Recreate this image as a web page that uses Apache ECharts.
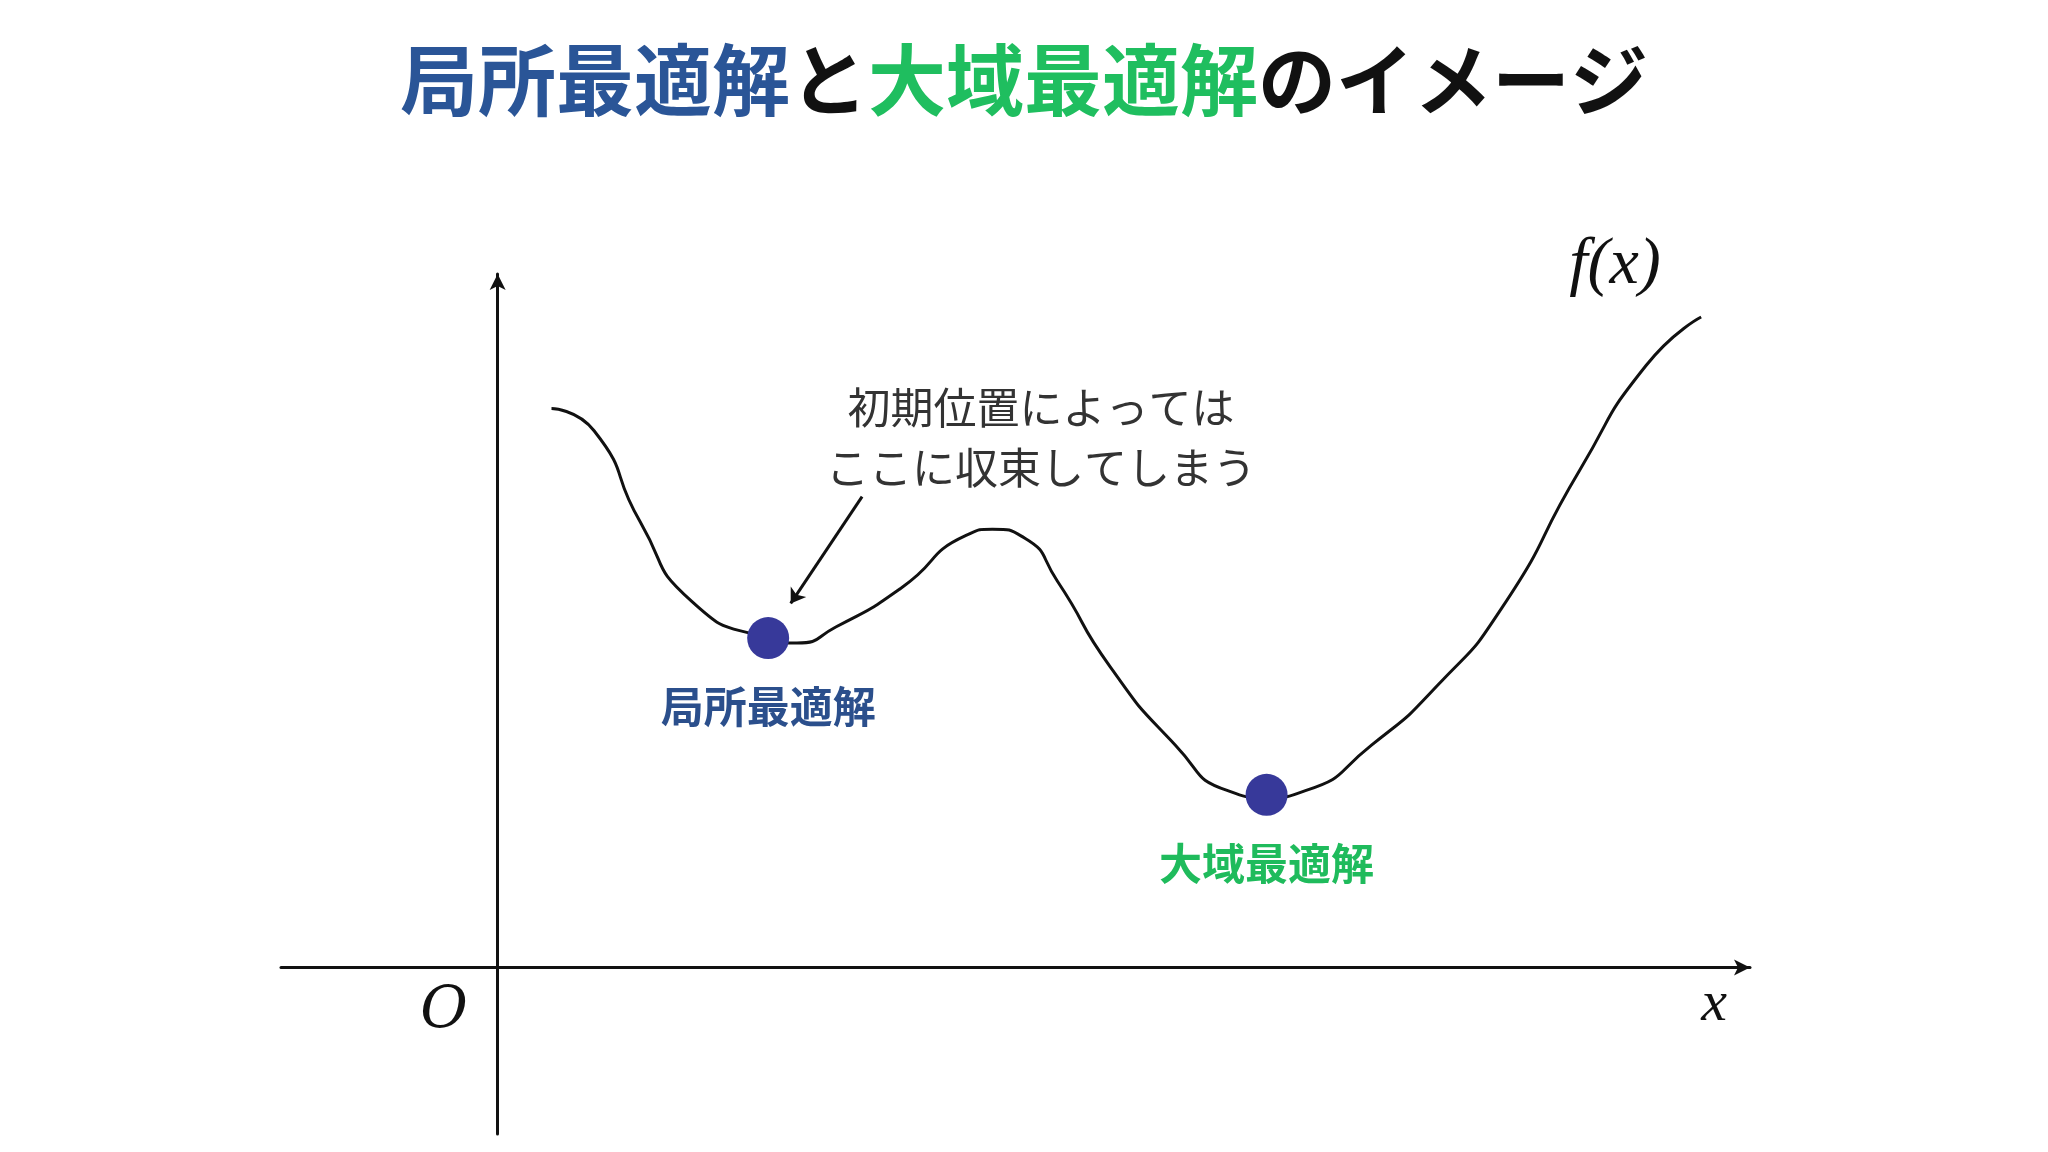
<!DOCTYPE html>
<html><head><meta charset="utf-8">
<script src="https://cdn.jsdelivr.net/npm/echarts@6/dist/echarts.min.js"></script>
<style>html,body{margin:0;background:#fff}#c{width:2048px;height:1152px}</style>
</head><body><div id="c"></div>
<script>
const curveX=[4.3,7.7,11.4,15.5,21.6,23.9,27.0,32.2,37.4,39.5,42.1,44.7,48.9,54.1,58.3,61.4,64.5,69.8,75.0,80.2,86.4,91.7,96.1];
const curveY=[80.6,77.4,64.2,52.8,47.5,46.8,49.1,54.7,62.3,63.2,61.9,55.7,43.4,32.1,25.5,24.5,25.5,32.1,40.6,51.9,71.7,86.8,93.8];
const pointNames=['局所最適解','大域最適解'];
const pointX=[21.6,61.4];
const pointY=[47.5,24.9];
const pointColors=['#2b4f8c','#1fbb5c'];
const note='初期位置によっては\nここに収束してしまう';
const chart=echarts.init(document.getElementById('c'));
const axisCommon={type:'value',axisTick:{show:false},axisLabel:{show:false},splitLine:{show:false},
  axisLine:{onZero:true,symbol:['none','arrow'],symbolSize:[12,16],lineStyle:{color:'#111',width:3}}};
chart.setOption({
  animation:false,
  title:{left:'center',top:36,text:'{b|局所最適解}{k|と}{g|大域最適解}{k|のイメージ}',
    textStyle:{rich:{
      b:{color:'#2a5597',fontSize:78,fontWeight:'bold',fontFamily:'Noto Sans CJK JP'},
      g:{color:'#1fbe5f',fontSize:78,fontWeight:'bold',fontFamily:'Noto Sans CJK JP'},
      k:{color:'#111',fontSize:78,fontWeight:'bold',fontFamily:'Noto Sans CJK JP'}}}},
  grid:{left:281,right:298,top:274,bottom:18},
  xAxis:Object.assign({min:-17.3,max:100},axisCommon),
  yAxis:Object.assign({min:-24,max:100},axisCommon),
  series:[
    {type:'line',smooth:0.6,symbol:'none',data:curveX.map((x,i)=>[x,curveY[i]]),
     lineStyle:{color:'#111',width:3},
     markLine:{silent:true,symbol:['none','arrow'],symbolSize:14,lineStyle:{color:'#111',width:3,type:'solid'},label:{show:false},
       data:[[{coord:[29.1,67.9]},{coord:[23.4,52.5]}]]}},
    {type:'scatter',symbolSize:42,itemStyle:{color:'#37399a',opacity:1},z:5,
     data:pointX.map((x,i)=>({value:[x,pointY[i]],label:{show:true,position:'bottom',distance:26,formatter:pointNames[i],
       color:pointColors[i],fontSize:43,fontWeight:'bold',fontFamily:'Noto Sans CJK JP',opacity:1}}))}
  ],
  graphic:[
    {type:'text',style:{text:note,x:1041,y:438,textAlign:'center',textVerticalAlign:'middle',
      fontSize:43,lineHeight:60,fill:'#333',fontFamily:'Noto Sans CJK JP'}},
    {type:'text',style:{text:'O',x:444,y:1012,textAlign:'center',textVerticalAlign:'middle',fontSize:58,fontStyle:'italic',fontFamily:'DejaVu Serif',fill:'#111'}},
    {type:'text',style:{text:'x',x:1714,y:1005,textAlign:'center',textVerticalAlign:'middle',fontSize:58,fontStyle:'italic',fontFamily:'Liberation Serif',fill:'#111'}},
    {type:'text',style:{text:'f(x)',x:1615,y:266,textAlign:'center',textVerticalAlign:'middle',fontSize:66,fontStyle:'italic',fontFamily:'Liberation Serif',fill:'#111'}}
  ]
});
</script></body></html>
